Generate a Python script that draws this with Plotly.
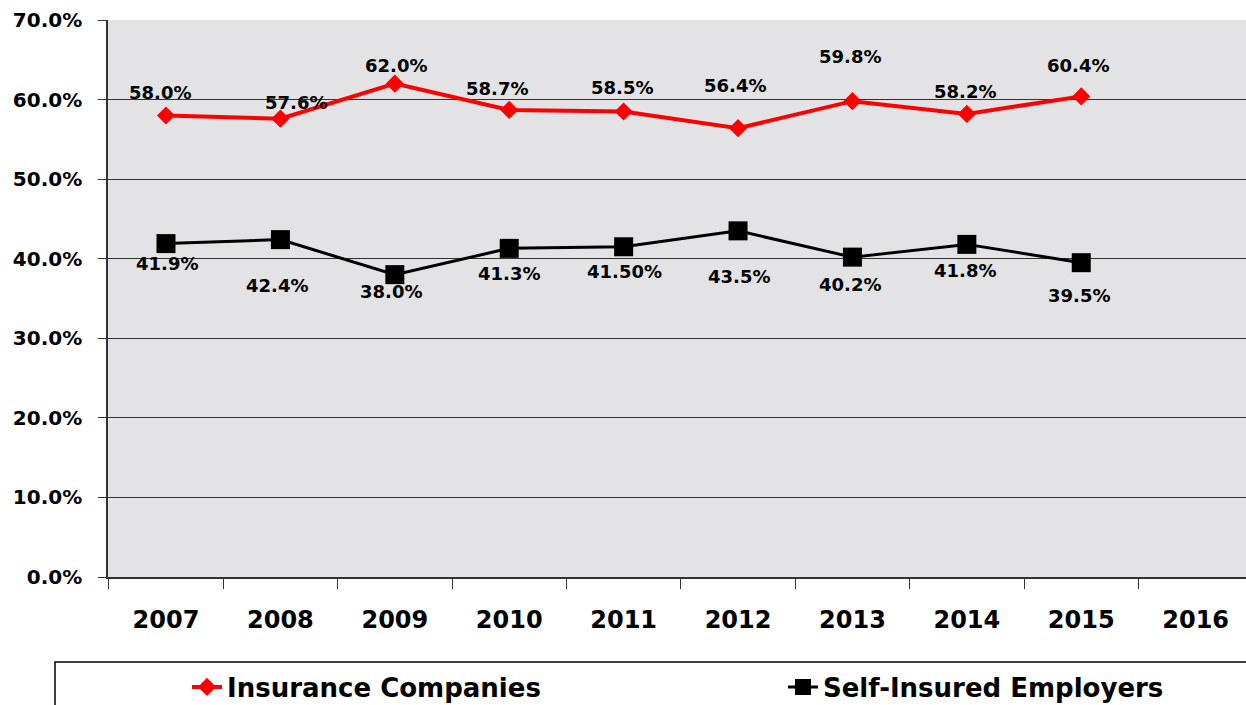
import plotly.graph_objects as go

years = ["2007", "2008", "2009", "2010", "2011", "2012", "2013", "2014", "2015", "2016"]
insurance = [58.0, 57.6, 62.0, 58.7, 58.5, 56.4, 59.8, 58.2, 60.4, None]
self_insured = [41.9, 42.4, 38.0, 41.3, 41.5, 43.5, 40.2, 41.8, 39.5, None]
insurance_labels = ["58.0%", "57.6%", "62.0%", "58.7%", "58.5%", "56.4%", "59.8%", "58.2%", "60.4%"]
self_labels = ["41.9%", "42.4%", "38.0%", "41.3%", "41.50%", "43.5%", "40.2%", "41.8%", "39.5%"]
y_ticks = [0, 10, 20, 30, 40, 50, 60, 70]

# label placement offsets (pixels) -- layout only
ins_dx = [-6, 16, 1, -12, -2, -3, -2, -2, -3]
ins_dy = [23, 16, 18, 21, 24, 43, 45, 22, 31]
self_dx = [1, -3, -4, 0, 1, 1, -2, -2, -2]
self_dy = [-20, -46, -17, -25, -25, -46, -27, -26, -33]

FONT = "DejaVu Sans"

W, H = 1246, 705
L, T, B = 108, 20, 128
plot_w = W - L
plot_h = H - T - B


def px_x(px):
    return (px - L) / plot_w


def px_y(py):
    return (H - B - py) / plot_h


fig = go.Figure()
fig.add_trace(go.Scatter(
    x=years, y=insurance, name="<b>Insurance Companies</b>",
    mode="lines+markers",
    line=dict(color="#ff0000", width=4),
    marker=dict(symbol="diamond", size=14, color="#ff0000"),
    legend="legend",
))
fig.add_trace(go.Scatter(
    x=years, y=self_insured, name="<b>Self-Insured Employers</b>",
    mode="lines+markers",
    line=dict(color="#000000", width=3),
    marker=dict(symbol="square", size=19, color="#000000"),
    legend="legend2",
))

annotations = []
for i, lab in enumerate(insurance_labels):
    annotations.append(dict(x=i, y=insurance[i], xref="x", yref="y",
                            text="<b>%s</b>" % lab,
                            showarrow=False, xshift=ins_dx[i], yshift=ins_dy[i],
                            font=dict(family=FONT, size=18, color="black")))
for i, lab in enumerate(self_labels):
    annotations.append(dict(x=i, y=self_insured[i], xref="x", yref="y",
                            text="<b>%s</b>" % lab,
                            showarrow=False, xshift=self_dx[i], yshift=self_dy[i],
                            font=dict(family=FONT, size=18, color="black")))

legend_common = dict(
    orientation="h", xanchor="left", yanchor="middle",
    y=px_y(687),
    bgcolor="rgba(0,0,0,0)",
    font=dict(family=FONT, size=26, color="black"),
    itemsizing="trace",
)

fig.update_layout(
    width=W, height=H,
    margin=dict(l=L, r=0, t=T, b=B, autoexpand=False),
    paper_bgcolor="white",
    plot_bgcolor="#e3e3e5",
    font=dict(family=FONT, color="black"),
    annotations=annotations,
    showlegend=True,
    legend=dict(x=px_x(187), **legend_common),
    legend2=dict(x=px_x(783), **legend_common),
    shapes=[dict(type="rect", xref="paper", yref="paper",
                 x0=px_x(55), x1=px_x(1260), y0=px_y(662), y1=px_y(720),
                 line=dict(color="black", width=1.5), fillcolor="white", layer="below")],
    xaxis=dict(
        type="category", categoryorder="array", categoryarray=years,
        range=[-0.507, 9.44], automargin=False,
        tickson="boundaries", ticks="outside", ticklen=10, tickcolor="#333",
        showline=True, linecolor="#333", linewidth=1.5, mirror=False,
        showgrid=False,
        tickfont=dict(family=FONT, size=24, color="black"),
        ticklabelstandoff=20,
        tickprefix="<b>", ticksuffix="</b>",
    ),
    yaxis=dict(
        range=[0, 70], tickvals=y_ticks, automargin=False,
        ticktext=["<b>%.1f%%</b>" % v for v in y_ticks],
        ticks="outside", ticklen=8, tickcolor="#333",
        showline=True, linecolor="#333", linewidth=1.5,
        showgrid=True, gridcolor="#333", gridwidth=1,
        zeroline=False,
        tickfont=dict(family=FONT, size=20, color="black"),
        ticklabelstandoff=12,
    ),
)

fig.write_html("out.html",
               config={"displayModeBar": False},
               post_script="document.body.style.margin='0';document.body.style.overflow='hidden';")
